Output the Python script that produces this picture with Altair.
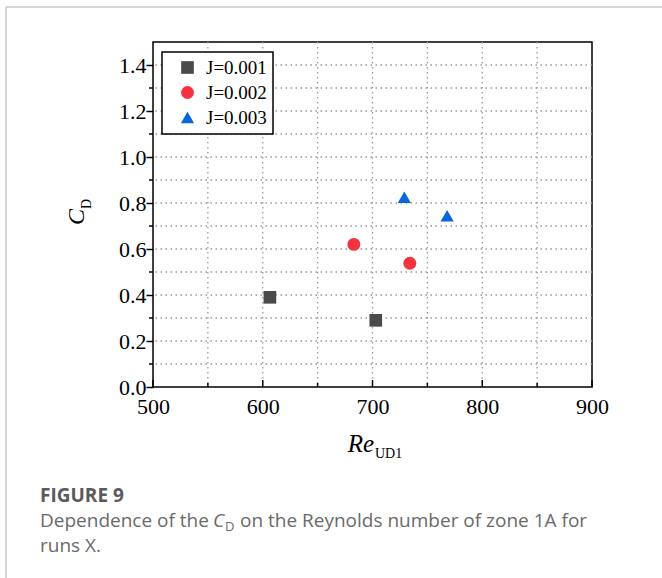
import altair as alt
import pandas as pd

# ---- data ----
series = ["J=0.001", "J=0.001", "J=0.002", "J=0.002", "J=0.003", "J=0.003"]
re_ud1 = [606.5, 703, 683, 734, 729, 768]
cd = [0.39, 0.29, 0.62, 0.538, 0.825, 0.745]

series_names = ["J=0.001", "J=0.002", "J=0.003"]
series_colors = ["#4a4a4a", "#f5333f", "#0a66dc"]
series_shapes = ["square", "circle", "triangle-up"]
series_sizes = [160, 175, 280]

x_major = [500, 600, 700, 800, 900]
x_minor = [550, 650, 750, 850]
x_grid = [550, 600, 650, 700, 750, 800, 850]
y_major = [0.0, 0.2, 0.4, 0.6, 0.8, 1.0, 1.2, 1.4]
y_minor = [0.1, 0.3, 0.5, 0.7, 0.9, 1.1, 1.3]
y_grid = [0.1, 0.2, 0.3, 0.4, 0.5, 0.6, 0.7, 0.8, 0.9, 1.0, 1.1, 1.2, 1.3, 1.4]

W, H = 439, 345
SERIF = "Liberation Serif"
SANS = "Open Sans"

df = pd.DataFrame({"series": series, "re": re_ud1, "cd": cd})
xs = alt.Scale(domain=[500, 900], nice=False, zero=False)
ys = alt.Scale(domain=[0, 1.5], nice=False)

x_axis = alt.Axis(values=x_major, format="d", ticks=False, domain=False, grid=False,
                  labelFont=SERIF, labelFontSize=22, labelColor="black",
                  labelPadding=9, labelFlush=False, labelOverlap=False)
y_axis = alt.Axis(values=y_major, format=".1f", tickSize=7, tickColor="black", tickWidth=1.5,
                  domain=False, grid=False, labelFont=SERIF, labelFontSize=22,
                  labelColor="black", labelPadding=0, labelOverlap=False)

grid_style = dict(color="#999999", strokeDash=[1.5, 3.5], strokeWidth=1.3)

vgrid = alt.Chart(pd.DataFrame({"v": x_grid})).mark_rule(**grid_style).encode(
    x=alt.X("v:Q", scale=xs, axis=x_axis, title=None))
hgrid = alt.Chart(pd.DataFrame({"v": y_grid})).mark_rule(**grid_style).encode(
    y=alt.Y("v:Q", scale=ys, axis=y_axis, title=None))

xt_major = alt.Chart(pd.DataFrame({"v": x_major})).mark_rule(color="black", strokeWidth=1.5).encode(
    x=alt.X("v:Q", scale=xs, axis=x_axis, title=None), y=alt.value(H), y2=alt.value(H - 7))
xt_minor = alt.Chart(pd.DataFrame({"v": x_minor})).mark_rule(color="black", strokeWidth=1.5).encode(
    x=alt.X("v:Q", scale=xs, axis=x_axis, title=None), y=alt.value(H), y2=alt.value(H - 4))
yt_minor = alt.Chart(pd.DataFrame({"v": y_minor})).mark_rule(color="black", strokeWidth=1.5).encode(
    y=alt.Y("v:Q", scale=ys, axis=y_axis, title=None), x=alt.value(-4), x2=alt.value(0))

legend = alt.Legend(orient="none", legendX=9, legendY=10, title=None,
                    strokeColor="black", fillColor="white", padding=6,
                    labelFont=SERIF, labelFontSize=19, labelColor="black",
                    rowPadding=5, symbolOffset=10, labelOffset=9,
                    symbolStrokeWidth=0, symbolOpacity=1)

points = alt.Chart(df).mark_point(filled=True, opacity=1).encode(
    x=alt.X("re:Q", scale=xs, axis=x_axis, title=None),
    y=alt.Y("cd:Q", scale=ys, axis=y_axis, title=None),
    color=alt.Color("series:N", scale=alt.Scale(domain=series_names, range=series_colors),
                    legend=legend),
    shape=alt.Shape("series:N", scale=alt.Scale(domain=series_names, range=series_shapes),
                    legend=legend),
    size=alt.Size("series:N", scale=alt.Scale(domain=series_names, range=series_sizes),
                  legend=legend),
)


def txt(text, x, y, **kw):
    return alt.Chart(pd.DataFrame({"t": [text]})).mark_text(**kw).encode(
        text="t:N", x=alt.value(x), y=alt.value(y))


# page border (top and left)
border_top = alt.Chart(pd.DataFrame({"a": [0]})).mark_rule(color="#c8c8c8", strokeWidth=1.5).encode(
    x=alt.value(-147), x2=alt.value(W + 80), y=alt.value(-35))
border_left = alt.Chart(pd.DataFrame({"a": [0]})).mark_rule(color="#c8c8c8", strokeWidth=1.5).encode(
    x=alt.value(-147), y=alt.value(-35), y2=alt.value(H + 200))

# axis titles
y_title_c = txt("C", -69, 175, font=SERIF, fontSize=24, fontStyle="italic", angle=270,
                align="center", baseline="alphabetic", color="black")
y_title_d = txt("D", -62, 167, font=SERIF, fontSize=14, angle=270,
                align="left", baseline="alphabetic", color="black")
x_title_re = txt("Re", 221, 410, font=SERIF, fontSize=25, fontStyle="italic",
                 align="right", baseline="alphabetic", color="black")
x_title_sub = txt("UD1", 222, 416, font=SERIF, fontSize=14,
                  align="left", baseline="alphabetic", color="black")

# caption
CAP = 19
CAP_COL = "#6a6a6a"
cap1 = txt("FIGURE 9", -113, 454, font=SANS, fontSize=CAP, fontWeight="bold",
           align="left", baseline="middle", color="#5a5a5a")
cap2a = txt("Dependence of the", -113, 479, font=SANS, fontSize=CAP,
            align="left", baseline="middle", color=CAP_COL)
cap2b = txt("C", 60, 479, font=SANS, fontSize=CAP, fontStyle="italic",
            align="left", baseline="middle", color=CAP_COL)
cap2c = txt("D", 72, 485, font=SANS, fontSize=13,
            align="left", baseline="middle", color=CAP_COL)
cap2d = txt("on the Reynolds number of zone 1A for", 87, 479, font=SANS, fontSize=CAP,
            align="left", baseline="middle", color=CAP_COL)
cap3 = txt("runs X.", -113, 504, font=SANS, fontSize=CAP,
           align="left", baseline="middle", color=CAP_COL)

chart = alt.layer(
    border_top, border_left, vgrid, hgrid, xt_major, xt_minor, yt_minor, points,
    y_title_c, y_title_d, x_title_re, x_title_sub,
    cap1, cap2a, cap2b, cap2c, cap2d, cap3,
).properties(
    width=W, height=H,
    autosize=alt.AutoSizeParams(type="none"),
    padding={"left": 153, "top": 42, "right": 70, "bottom": 191},
    background="white",
).configure_view(
    stroke="black", strokeWidth=1.5
).configure_legend(
    strokeWidth=1.5
)

chart.save("out.html", embed_options={"renderer": "svg", "actions": False})
